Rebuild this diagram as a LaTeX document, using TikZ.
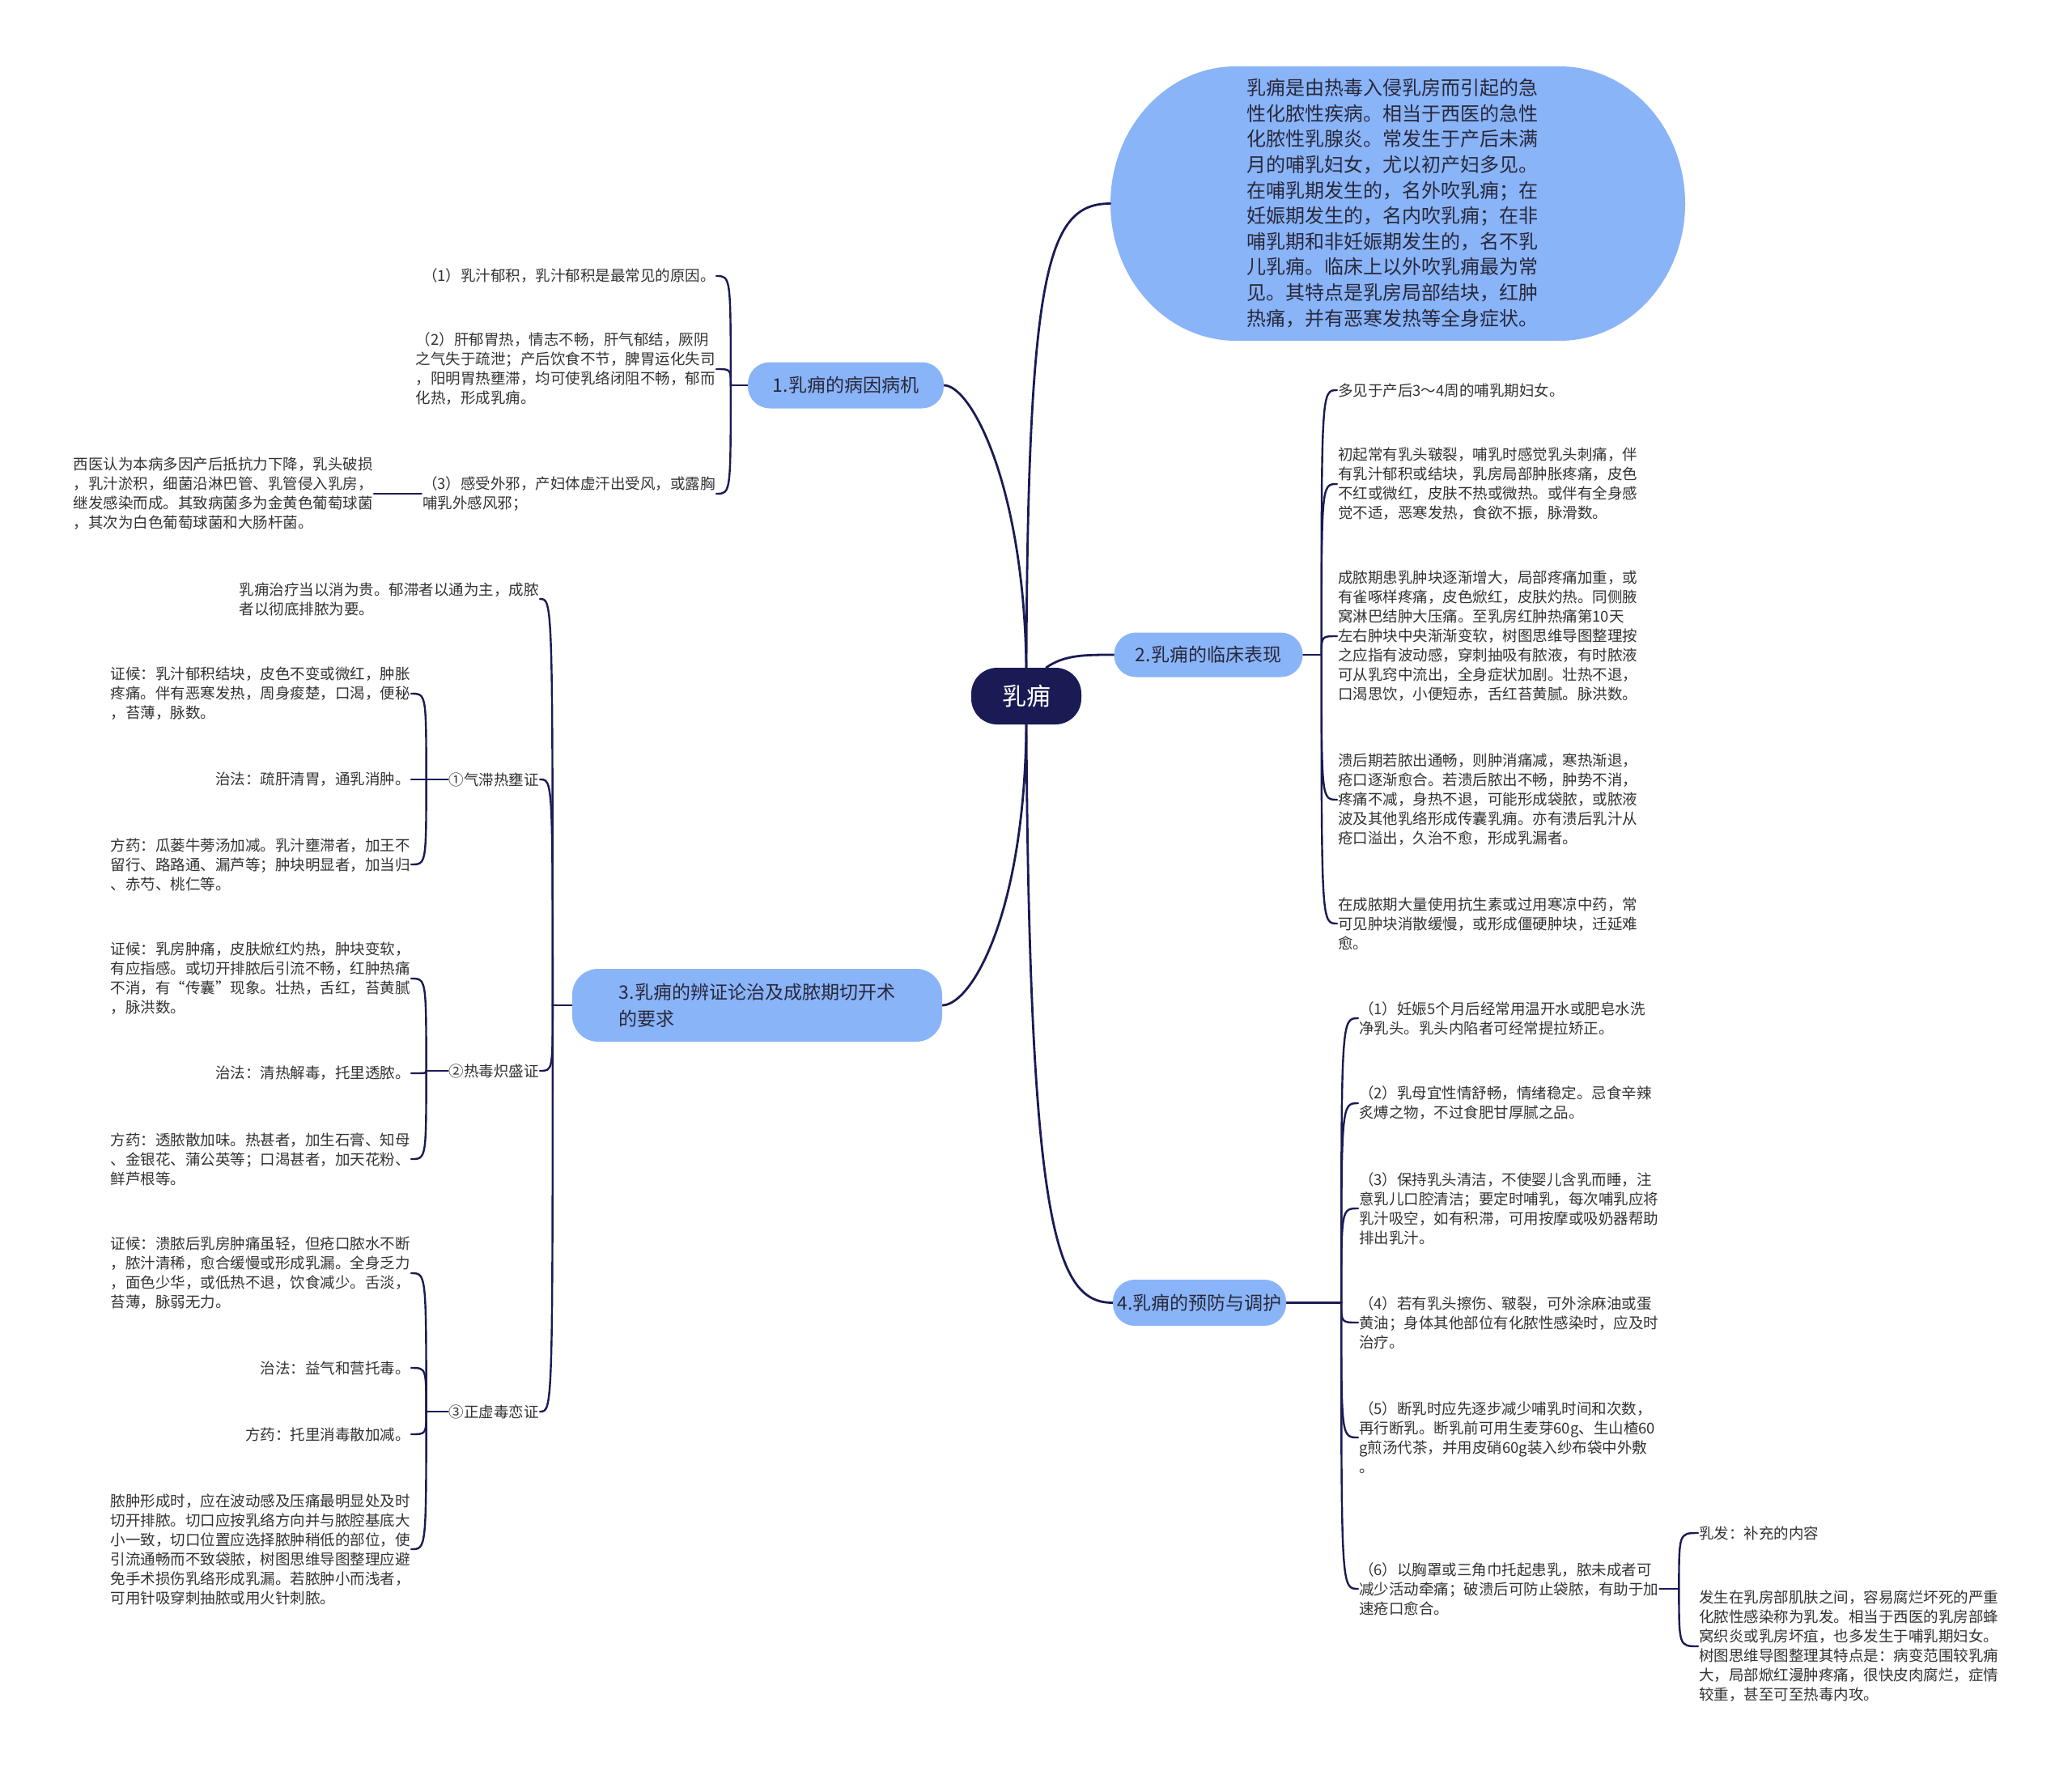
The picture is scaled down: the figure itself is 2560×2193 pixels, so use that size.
\documentclass[tikz,border=0pt]{standalone}
\usepackage{fontspec}
\setmainfont{Noto Sans CJK SC}
\usetikzlibrary{calc}
\pgfdeclarelayer{bg}
\pgfsetlayers{bg,main}
\definecolor{navy}{RGB}{26,27,84}
\definecolor{blue1}{RGB}{138,180,248}
\definecolor{txt}{RGB}{51,51,51}
\definecolor{txt1}{RGB}{40,40,58}
\tikzset{
  leaf/.style={font=\fontsize{18.5}{24}\selectfont, text=txt, inner sep=1pt, align=left},
  lvl/.style={fill=blue1, rounded corners=27pt, font=\fontsize{23}{33}\selectfont, text=txt1, inner sep=0pt, align=left},
  conn/.style={draw=navy, line width=2.4pt, line cap=round},
  mainconn/.style={draw=navy, line width=2.8pt, line cap=round},
}
\begin{document}
\begin{tikzpicture}[x=1pt,y=-1pt]
\useasboundingbox (0,0) rectangle (2560,2193);

% root and level 1
\node[fill=navy, rounded corners=32pt, minimum width=136pt, minimum height=70pt, inner sep=0pt, text=white, font=\fontsize{30}{34}\selectfont] (root) at (1268,860) {乳痈};
\node[inner sep=0pt, minimum width=710pt, minimum height=339pt] (bub) at (1727,251.5) {};
\node[lvl, minimum width=242pt, minimum height=57pt] (n1) at (1045,476) {1.乳痈的病因病机};
\node[lvl, minimum width=233pt, minimum height=55pt] (n2) at (1493,809) {2.乳痈的临床表现};
\node[lvl, rounded corners=32pt, minimum width=457pt, minimum height=90pt] (n3) at (935.5,1242) {3.乳痈的辨证论治及成脓期切开术\\的要求};
\node[lvl, minimum width=214pt, minimum height=57pt] (n4) at (1482,1609.5) {4.乳痈的预防与调护};

% bubble text
\node[font=\fontsize{24}{31.6}\selectfont, text=txt1, align=left, inner sep=0pt] (intro) at (1720,251) {乳痈是由热毒入侵乳房而引起的急\\性化脓性疾病。相当于西医的急性\\化脓性乳腺炎。常发生于产后未满\\月的哺乳妇女，尤以初产妇多见。\\在哺乳期发生的，名外吹乳痈；在\\妊娠期发生的，名内吹乳痈；在非\\哺乳期和非妊娠期发生的，名不乳\\儿乳痈。临床上以外吹乳痈最为常\\见。其特点是乳房局部结块，红肿\\热痛，并有恶寒发热等全身症状。};

% branch 1 children
\node[leaf, anchor=east] (c11) at (885,341) {（1）乳汁郁积，乳汁郁积是最常见的原因。};
\node[leaf, anchor=east] (c12) at (885,456) {（2）肝郁胃热，情志不畅，肝气郁结，厥阴\\之气失于疏泄；产后饮食不节，脾胃运化失司\\，阳明胃热壅滞，均可使乳络闭阻不畅，郁而\\化热，形成乳痈。};
\node[leaf, anchor=east] (c13) at (885,610) {（3）感受外邪，产妇体虚汗出受风，或露胸\\哺乳外感风邪；};
\node[leaf, anchor=east] (c14) at (462,610) {西医认为本病多因产后抵抗力下降，乳头破损\\，乳汁淤积，细菌沿淋巴管、乳管侵入乳房，\\继发感染而成。其致病菌多为金黄色葡萄球菌\\，其次为白色葡萄球菌和大肠杆菌。};

% branch 3 children
\node[leaf, anchor=east] (t31) at (667,740) {乳痈治疗当以消为贵。郁滞者以通为主，成脓\\者以彻底排脓为要。};
\node[leaf, anchor=east] (q1) at (667,963) {①气滞热壅证};
\node[leaf, anchor=east] (q2) at (667,1323) {②热毒炽盛证};
\node[leaf, anchor=east] (q3) at (667,1744) {③正虚毒恋证};

\node[leaf, anchor=east] (a1) at (508,857) {证候：乳汁郁积结块，皮色不变或微红，肿胀\\疼痛。伴有恶寒发热，周身痠楚，口渴，便秘\\，苔薄，脉数。};
\node[leaf, anchor=east] (a2) at (508,963) {治法：疏肝清胃，通乳消肿。};
\node[leaf, anchor=east] (a3) at (508,1068) {方药：瓜蒌牛蒡汤加减。乳汁壅滞者，加王不\\留行、路路通、漏芦等；肿块明显者，加当归\\、赤芍、桃仁等。};

\node[leaf, anchor=east] (b1) at (508,1209) {证候：乳房肿痛，皮肤焮红灼热，肿块变软，\\有应指感。或切开排脓后引流不畅，红肿热痛\\不消，有“传囊”现象。壮热，舌红，苔黄腻\\，脉洪数。};
\node[leaf, anchor=east] (b2) at (508,1326) {治法：清热解毒，托里透脓。};
\node[leaf, anchor=east] (b3) at (508,1432) {方药：透脓散加味。热甚者，加生石膏、知母\\、金银花、蒲公英等；口渴甚者，加天花粉、\\鲜芦根等。};

\node[leaf, anchor=east] (g1) at (508,1573) {证候：溃脓后乳房肿痛虽轻，但疮口脓水不断\\，脓汁清稀，愈合缓慢或形成乳漏。全身乏力\\，面色少华，或低热不退，饮食减少。舌淡，\\苔薄，脉弱无力。};
\node[leaf, anchor=east] (g2) at (508,1690) {治法：益气和营托毒。};
\node[leaf, anchor=east] (g3) at (508,1772) {方药：托里消毒散加减。};
\node[leaf, anchor=east] (g4) at (508,1914) {脓肿形成时，应在波动感及压痛最明显处及时\\切开排脓。切口应按乳络方向并与脓腔基底大\\小一致，切口位置应选择脓肿稍低的部位，使\\引流通畅而不致袋脓，树图思维导图整理应避\\免手术损伤乳络形成乳漏。若脓肿小而浅者，\\可用针吸穿刺抽脓或用火针刺脓。};

% branch 2 children
\node[leaf, anchor=west] (d1) at (1652,482) {多见于产后3～4周的哺乳期妇女。};
\node[leaf, anchor=west] (d2) at (1652,598) {初起常有乳头皲裂，哺乳时感觉乳头刺痛，伴\\有乳汁郁积或结块，乳房局部肿胀疼痛，皮色\\不红或微红，皮肤不热或微热。或伴有全身感\\觉不适，恶寒发热，食欲不振，脉滑数。};
\node[leaf, anchor=west] (d3) at (1652,786) {成脓期患乳肿块逐渐增大，局部疼痛加重，或\\有雀啄样疼痛，皮色焮红，皮肤灼热。同侧腋\\窝淋巴结肿大压痛。至乳房红肿热痛第10天\\左右肿块中央渐渐变软，树图思维导图整理按\\之应指有波动感，穿刺抽吸有脓液，有时脓液\\可从乳窍中流出，全身症状加剧。壮热不退，\\口渴思饮，小便短赤，舌红苔黄腻。脉洪数。};
\node[leaf, anchor=west] (d4) at (1652,988) {溃后期若脓出通畅，则肿消痛减，寒热渐退，\\疮口逐渐愈合。若溃后脓出不畅，肿势不消，\\疼痛不减，身热不退，可能形成袋脓，或脓液\\波及其他乳络形成传囊乳痈。亦有溃后乳汁从\\疮口溢出，久治不愈，形成乳漏者。};
\node[leaf, anchor=west] (d5) at (1652,1141) {在成脓期大量使用抗生素或过用寒凉中药，常\\可见肿块消散缓慢，或形成僵硬肿块，迁延难\\愈。};

% branch 4 children
\node[leaf, anchor=west] (e1) at (1678,1258) {（1）妊娠5个月后经常用温开水或肥皂水洗\\净乳头。乳头内陷者可经常提拉矫正。};
\node[leaf, anchor=west] (e2) at (1678,1363) {（2）乳母宜性情舒畅，情绪稳定。忌食辛辣\\炙煿之物，不过食肥甘厚腻之品。};
\node[leaf, anchor=west] (e3) at (1678,1493) {（3）保持乳头清洁，不使婴儿含乳而睡，注\\意乳儿口腔清洁；要定时哺乳，每次哺乳应将\\乳汁吸空，如有积滞，可用按摩或吸奶器帮助\\排出乳汁。};
\node[leaf, anchor=west] (e4) at (1678,1634) {（4）若有乳头擦伤、皲裂，可外涂麻油或蛋\\黄油；身体其他部位有化脓性感染时，应及时\\治疗。};
\node[leaf, anchor=west] (e5) at (1678,1776) {（5）断乳时应先逐步减少哺乳时间和次数，\\再行断乳。断乳前可用生麦芽60g、生山楂60\\g煎汤代茶，并用皮硝60g装入纱布袋中外敷\\。};
\node[leaf, anchor=west] (e6) at (1678,1963) {（6）以胸罩或三角巾托起患乳，脓未成者可\\减少活动牵痛；破溃后可防止袋脓，有助于加\\速疮口愈合。};
\node[leaf, anchor=west] (f1) at (2098,1894) {乳发：补充的内容};
\node[leaf, anchor=west] (f2) at (2098,2034) {发生在乳房部肌肤之间，容易腐烂坏死的严重\\化脓性感染称为乳发。相当于西医的乳房部蜂\\窝织炎或乳房坏疽，也多发生于哺乳期妇女。\\树图思维导图整理其特点是：病变范围较乳痈\\大，局部焮红漫肿疼痛，很快皮肉腐烂，症情\\较重，甚至可至热毒内攻。};

% junctions
\coordinate (j1) at ($(n1.west)+(-21,0)$);
\coordinate (j3) at ($(n3.west)+(-24,0)$);
\coordinate (jq1) at ($(q1.west)+(-27,0)$);
\coordinate (jq2) at ($(q2.west)+(-27,0)$);
\coordinate (jq3) at ($(q3.west)+(-27,0)$);
\coordinate (j2) at ($(n2.east)+(23,0)$);
\coordinate (j4) at ($(n4.east)+(68,0)$);
\coordinate (j6) at ($(e6.east)+(24,0)$);

\begin{pgfonlayer}{bg}
\fill[white] (0,0) rectangle (2560,2193);
% bubble shape
\fill[blue1] (1527,251.5) ellipse [x radius=155pt, y radius=169.5pt];
\fill[blue1] (1927,251.5) ellipse [x radius=155pt, y radius=169.5pt];
\fill[blue1] (1527,82) rectangle (1927,421);

% main connectors
\draw[mainconn] (root.north) .. controls (1270,330) and (1295,251.5) .. (bub.west);
\draw[mainconn] (root.north) .. controls (1265,600) and (1200,476) .. (n1.east);
\draw[mainconn] (root.55) .. controls (1315,809) and (1340,809) .. (n2.west);
\draw[mainconn] (root.south) .. controls (1266,1130) and (1200,1242) .. (n3.east);
\draw[mainconn] (root.south) .. controls (1272,1520) and (1305,1609.5) .. (n4.west);

% branch 1
\draw[conn] (n1.west) -- (j1);
\foreach \c in {c11,c12,c13} \draw[conn] (j1) .. controls (j1 |- \c.east) .. (\c.east);
\draw[conn] (c13.west) -- (c14.east);

% branch 3
\draw[conn] (n3.west) -- (j3);
\foreach \c in {t31,q1,q2,q3} \draw[conn] (j3) .. controls (j3 |- \c.east) .. (\c.east);
\draw[conn] (q1.west) -- (jq1);
\foreach \c in {a1,a2,a3} \draw[conn] (jq1) .. controls (jq1 |- \c.east) .. (\c.east);
\draw[conn] (q2.west) -- (jq2);
\foreach \c in {b1,b2,b3} \draw[conn] (jq2) .. controls (jq2 |- \c.east) .. (\c.east);
\draw[conn] (q3.west) -- (jq3);
\foreach \c in {g1,g2,g3,g4} \draw[conn] (jq3) .. controls (jq3 |- \c.east) .. (\c.east);

% branch 2
\draw[conn] (n2.east) -- (j2);
\foreach \c in {d1,d2,d3,d4,d5} \draw[conn] (j2) .. controls (j2 |- \c.west) .. (\c.west);

% branch 4
\draw[conn] (n4.east) -- (j4);
\foreach \c in {e1,e2,e3,e4,e5,e6} \draw[conn] (j4) .. controls (j4 |- \c.west) .. (\c.west);
\draw[conn] (e6.east) -- (j6);
\foreach \c in {f1,f2} \draw[conn] (j6) .. controls (j6 |- \c.west) .. (\c.west);
\end{pgfonlayer}
\end{tikzpicture}
\end{document}
